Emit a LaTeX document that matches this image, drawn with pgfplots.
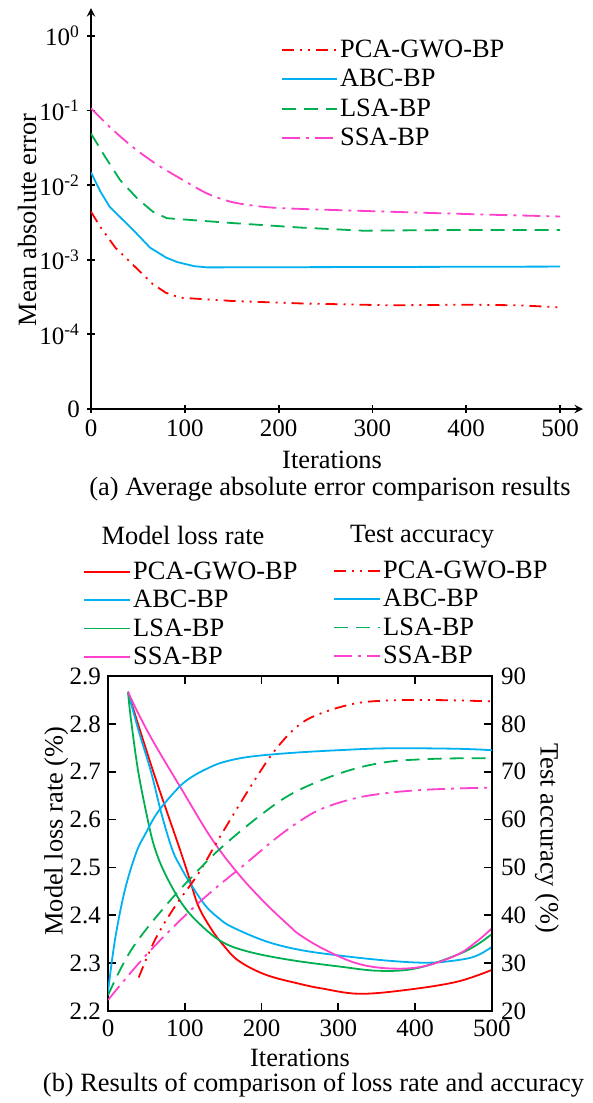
\documentclass[border=0pt]{standalone}
\usepackage{fontspec}
\setmainfont{Liberation Serif}
\usepackage{pgfplots}
\pgfplotsset{compat=1.18}
\definecolor{cred}{RGB}{255,0,0}
\definecolor{cblue}{RGB}{0,176,240}
\definecolor{cgreen}{RGB}{0,176,80}
\definecolor{cmag}{RGB}{255,64,204}
\newcommand{\lfont}{\fontsize{13.2}{15.8}\selectfont}
\newcommand{\tfont}{\fontsize{12.5}{15}\selectfont}
\tikzset{
  ddot/.style={dash pattern=on 6pt off 3pt on 1pt off 3pt on 1pt off 3pt},
  dashd/.style={dash pattern=on 7pt off 4pt},
  dshdot/.style={dash pattern=on 9pt off 3pt on 1.5pt off 3pt},
}
\pgfplotsset{
  common/.style={
    scale only axis,
    tick align=inside,
    major tick length=4pt,
    every tick/.style={black, line width=0.9pt},
    axis line style={-, line width=0.9pt},
    /pgf/number format/assume math mode=true,
    tick label style={font=\tfont},
    label style={font=\lfont},
    legend style={font=\lfont},
    every axis plot/.append style={line width=0.9pt},
  }
}
\begin{document}
\begin{tikzpicture}[font=\lfont]
\useasboundingbox (0pt,0pt) rectangle (296.5pt,-551.5pt);
% ---------------- top panel ----------------
\begin{axis}[common,
  at={(45.5pt,-204.5pt)}, anchor=south west,
  width=246pt, height=200.5pt,
  xmin=0, xmax=524.5,
  ymode=log, ymin=1e-5, ymax=2.36,
  axis x line=bottom, axis y line=left,
  xtick={0,100,200,300,400,500},
  ytick={1e-5,1e-4,1e-3,1e-2,1e-1,1},
  yticklabels={0,10\textsuperscript{-4},10\textsuperscript{-3},10\textsuperscript{-2},10\textsuperscript{-1},10\textsuperscript{0}},
  yminorticks=false,
  xlabel={Iterations},
  xlabel style={at={(axis description cs:0.49,-0.127)}, anchor=center},
  ylabel={Mean absolute error},
  ylabel style={at={(axis description cs:-0.13,0.471)}, anchor=center, rotate=0},
  legend style={at={(0.386,0.934)}, anchor=north west, draw=none, fill=none,
    inner sep=0pt, column sep=0pt,
    nodes={inner sep=1pt, text height=10.2pt, text depth=2.55pt}},
  legend cell align=left,
  legend image code/.code={\draw[#1] (0pt,0pt) -- (23.5pt,0pt); \path (0pt,0pt) -- (27.5pt,0pt);},
]
\addplot[cred, ddot] coordinates {(0,4.4e-3) (10,2.75e-3) (26,1.45e-3) (45,8.5e-4) (66,4.7e-4) (80,3.6e-4) (95,3.1e-4) (151,2.8e-4) (223,2.6e-4) (319,2.45e-4) (400,2.5e-4) (457,2.45e-4) (500,2.3e-4)};
\addlegendentry{PCA-GWO-BP}
\addplot[cblue] coordinates {(0,1.48e-2) (10,8.2e-3) (20,5.1e-3) (45,2.5e-3) (63,1.45e-3) (80,1.07e-3) (92,9.3e-4) (110,8.2e-4) (124,7.9e-4) (500,8.1e-4)};
\addlegendentry{ABC-BP}
\addplot[cgreen, dashd] coordinates {(0,4.9e-2) (15,2.4e-2) (31,1.17e-2) (50,6.5e-3) (66,4.4e-3) (81,3.6e-3) (151,3.1e-3) (223,2.7e-3) (290,2.45e-3) (379,2.5e-3) (500,2.5e-3)};
\addlegendentry{LSA-BP}
\addplot[cmag, dshdot, smooth, tension=0.5] coordinates {(0,0.107) (20,6e-2) (45,3.2e-2) (70,1.9e-2) (98,1.17e-2) (125,7.6e-3) (151,5.9e-3) (185,5.1e-3) (223,4.8e-3) (344,4.3e-3) (430,4.0e-3) (500,3.8e-3)};
\addlegendentry{SSA-BP}
\end{axis}
\node at (165pt,-244.5pt) {(a) Average absolute error comparison results};
% ---------------- bottom panel ----------------
\begin{axis}[common,
  at={(54pt,-505.5pt)}, anchor=south west,
  width=192pt, height=167.5pt,
  xmin=0, xmax=500, ymin=2.2, ymax=2.9,
  xtick={0,100,200,300,400,500},
  ytick={2.2,2.3,2.4,2.5,2.6,2.7,2.8,2.9},
  ytick pos=left, xtick pos=both,
  yticklabel style={/pgf/number format/fixed, /pgf/number format/fixed zerofill, /pgf/number format/precision=1},
  xticklabel style={yshift=-1pt},
  xlabel={Iterations},
  xlabel style={at={(axis description cs:0.5,-0.14)}, anchor=center},
  ylabel={Model loss rate (\%)},
  ylabel style={at={(axis description cs:-0.135,0.537)}, anchor=center, rotate=0},
  legend style={at={(-0.065,1.355)}, anchor=north west, draw=none, fill=none,
    inner sep=0pt, column sep=0pt,
    nodes={inner sep=1pt, text height=9.9pt, text depth=2.3pt}},
  legend cell align=left,
  legend image code/.code={\draw[#1] (0pt,0pt) -- (22.5pt,0pt); \path (0pt,0pt) -- (23pt,0pt);},
]
\addplot[cred, smooth, tension=0.6] coordinates {(26,2.867) (59,2.70) (94,2.536) (107,2.472) (118,2.418) (135,2.37) (150,2.338) (170,2.305) (205,2.276) (249,2.257) (279,2.247) (327,2.236) (388,2.244) (454,2.261) (500,2.286)};
\addlegendentry{PCA-GWO-BP}
\addplot[cblue, smooth, tension=0.6] coordinates {(26,2.867) (40,2.785) (56,2.70) (70,2.61) (84,2.536) (95,2.50) (107,2.467) (127,2.420) (145,2.393) (161,2.376) (205,2.346) (249,2.328) (301,2.316) (366,2.305) (419,2.301) (462,2.308) (482,2.317) (500,2.334)};
\addlegendentry{ABC-BP}
\addplot[cgreen, smooth, tension=0.6] coordinates {(26,2.867) (30,2.808) (39,2.704) (50,2.613) (60,2.545) (74,2.488) (96,2.425) (118,2.384) (148,2.345) (183,2.324) (236,2.307) (301,2.293) (353,2.284) (401,2.289) (454,2.317) (480,2.338) (500,2.361)};
\addlegendentry{LSA-BP}
\addplot[cmag, smooth, tension=0.6] coordinates {(26,2.867) (40,2.82) (60,2.76) (96,2.663) (135,2.56) (170,2.486) (205,2.425) (236,2.378) (249,2.360) (279,2.331) (323,2.300) (366,2.289) (410,2.293) (454,2.317) (480,2.345) (500,2.373)};
\addlegendentry{SSA-BP}
\end{axis}
\begin{axis}[common,
  at={(54pt,-505.5pt)}, anchor=south west,
  width=192pt, height=167.5pt,
  xmin=0, xmax=500, ymin=20, ymax=90,
  axis x line=none, axis y line*=right,
  ytick={20,30,40,50,60,70,80,90},
  yticklabel style={xshift=1pt},
  ylabel={Test accuracy (\%)},
  ylabel style={at={(axis description cs:1.143,0.516)}, anchor=center, rotate=180},
  legend style={at={(0.586,1.358)}, anchor=north west, draw=none, fill=none,
    inner sep=0pt, column sep=0pt,
    nodes={inner sep=1pt, text height=9.9pt, text depth=2.3pt}},
  legend cell align=left,
  legend image code/.code={\draw[#1] (0pt,0pt) -- (22.5pt,0pt); \path (0pt,0pt) -- (23pt,0pt);},
]
\addplot[cred, ddot, smooth, tension=0.6] coordinates {(40,27.0) (61,34.8) (87,41.8) (118,48.8) (148,57) (192,68.5) (220,75) (249,79.8) (279,82.3) (323,84.3) (366,84.9) (410,85.0) (454,84.9) (500,84.7)};
\addlegendentry{PCA-GWO-BP}
\addplot[cblue, smooth, tension=0.6] coordinates {(0,24) (9,34.8) (22,45.3) (37,53.2) (48,56.8) (65,61.6) (92,66.7) (110,69.0) (131,70.8) (150,72.0) (183,73.1) (236,73.9) (300,74.5) (366,74.9) (454,74.8) (500,74.5)};
\addlegendentry{ABC-BP}
\addplot[cgreen, dashd, smooth, tension=0.6] coordinates {(0,23.3) (30,32.7) (74,41.8) (118,49.5) (150,54.5) (196,60.6) (236,65.1) (279,68.3) (323,70.7) (366,72.1) (410,72.6) (454,72.8) (500,72.8)};
\addlegendentry{LSA-BP}
\addplot[cmag, dshdot, smooth, tension=0.6] coordinates {(0,22.3) (52,32.1) (118,42.6) (183,51.3) (218,56.0) (249,59.6) (279,62.3) (323,64.5) (366,65.6) (410,66.2) (454,66.5) (500,66.7)};
\addlegendentry{SSA-BP}
\end{axis}
\node at (91.5pt,-267.5pt) {Model loss rate};
\node at (211pt,-268.5pt) {Test accuracy};
\node at (156.75pt,-542.5pt) {(b) Results of comparison of loss rate and accuracy};
\end{tikzpicture}
\end{document}
